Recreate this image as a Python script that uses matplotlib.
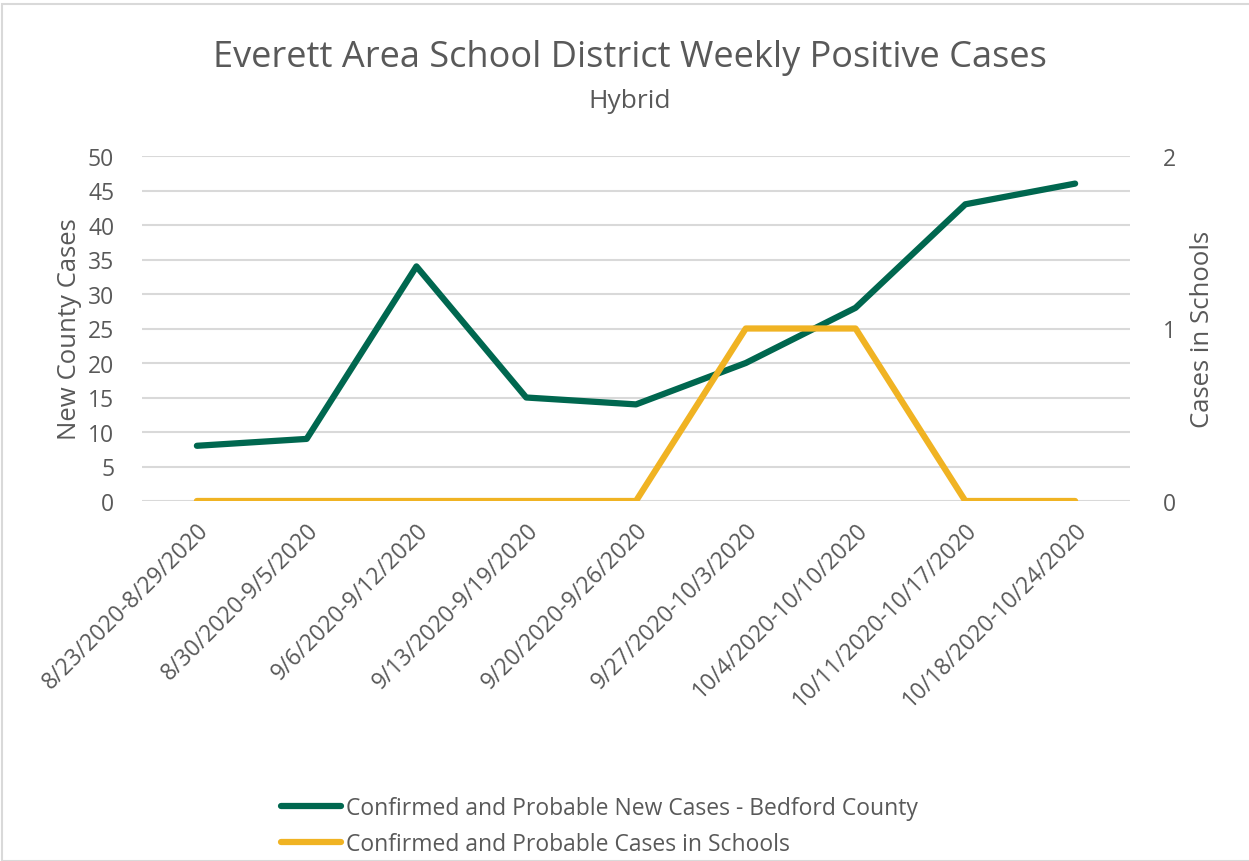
import matplotlib.pyplot as plt
import matplotlib.patches as patches
from matplotlib.lines import Line2D

# data
semanas = ["8/23/2020-8/29/2020", "8/30/2020-9/5/2020", "9/6/2020-9/12/2020",
           "9/13/2020-9/19/2020", "9/20/2020-9/26/2020", "9/27/2020-10/3/2020",
           "10/4/2020-10/10/2020", "10/11/2020-10/17/2020", "10/18/2020-10/24/2020"]
casos_condado = [8, 9, 34, 15, 14, 20, 28, 43, 46]
casos_escolas = [0, 0, 0, 0, 0, 1, 1, 0, 0]

verde = "#00674F"
amarelo = "#F0B323"
cinza = "#595959"
grade = "#D9D9D9"

plt.rcParams['font.family'] = ['Open Sans', 'DejaVu Sans']

fig = plt.figure(figsize=(12.49, 8.62), dpi=100)
ax = fig.add_axes([142 / 1249, 1 - 502 / 862, (1130 - 142) / 1249, (502 - 157) / 862])
ax2 = ax.twinx()

# moldura do gráfico
fig.patches.append(patches.Rectangle((2 / 1249, 0), 1.2, 1 - 5 / 862, transform=fig.transFigure,
                                     fill=False, edgecolor="#D9D9D9", linewidth=1.5))

x = range(len(semanas))
ax.plot(x, casos_condado, color=verde, linewidth=4.5, solid_capstyle='round', zorder=3)
ax2.plot(x, casos_escolas, color=amarelo, linewidth=4.5, solid_capstyle='round', zorder=3)

ax.set_xlim(-0.5, len(semanas) - 0.5)
ax.set_ylim(0, 50)
ax.set_yticks(range(0, 51, 5))
ax2.set_ylim(0, 2)
ax2.set_yticks([0, 1, 2])

ax.grid(axis='y', color=grade, linewidth=1.5)
ax.set_axisbelow(True)
for a in (ax, ax2):
    for s in a.spines.values():
        s.set_visible(False)
    a.tick_params(length=0, labelcolor=cinza, labelsize=16.5)
ax.tick_params(axis='y', pad=20)
ax2.tick_params(axis='y', pad=24)

ax.set_xticks(list(x))
ax.set_xticklabels(semanas, rotation=45, ha='right', rotation_mode='anchor')
ax.tick_params(axis='x', pad=12)

ax.set_ylabel("New County Cases", color=cinza, fontsize=18.5, labelpad=4)
ax2.set_ylabel("Cases in Schools", color=cinza, fontsize=18.5, labelpad=10)

fig.text(630 / 1249, 1 - 58 / 862, "Everett Area School District Weekly Positive Cases",
         ha='center', va='center', color=cinza, fontsize=26)
fig.text(630 / 1249, 1 - 101 / 862, "Hybrid", ha='center', va='center', color=cinza, fontsize=19)

itens = [Line2D([0], [0], color=verde, linewidth=4.5, solid_capstyle='round'),
         Line2D([0], [0], color=amarelo, linewidth=4.5, solid_capstyle='round')]
fig.legend(itens, ["Confirmed and Probable New Cases - Bedford County",
                   "Confirmed and Probable Cases in Schools"],
           loc='upper left', bbox_to_anchor=(270 / 1249, 1 - 786 / 862), frameon=False,
           fontsize=16.5, labelcolor=cinza, handlelength=2.6, handletextpad=0.2,
           labelspacing=0.5, borderpad=0)

fig.savefig("out.png", dpi=100)
